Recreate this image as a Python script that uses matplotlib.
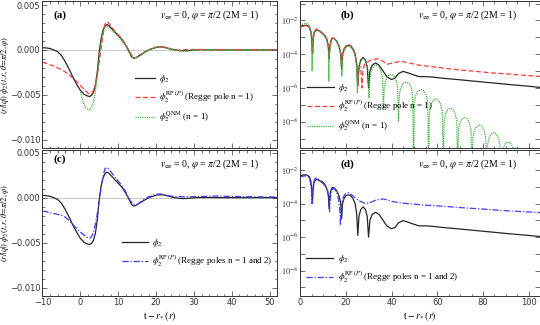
import matplotlib

matplotlib.use("Agg")
import matplotlib.pyplot as plt
import numpy as np
from matplotlib.ticker import MultipleLocator, FixedLocator, NullFormatter, FuncFormatter

plt.rcParams["font.family"] = ["DejaVu Sans"]
plt.rcParams["mathtext.fontset"] = "stix"

SERIF = ["Liberation Serif", "DejaVu Serif"]

# ---- linear panels (a), (c): values in units of 1e-3 ----
t_phi2 = [-10, -9, -8, -7, -6, -5, -4, -3, -2, -1, 0, 1, 2, 2.5, 3, 3.5, 4, 4.5, 5, 5.5,
          6, 6.5, 7, 7.5, 8, 9, 10, 11, 12, 13, 13.5, 14, 14.5, 15, 16, 17, 18, 19, 20, 21,
          22, 23, 24, 25, 26, 27, 28, 29, 30, 32, 35, 40, 45, 52]
phi2 = [0.25, 0.22, 0.15, 0.0, -0.2, -0.6, -1.3, -2.1, -3.0, -3.8, -4.5, -4.95, -5.15, -5.18,
        -5.05, -4.7, -3.9, -2.4, -0.2, 1.3, 2.2, 2.65, 2.83, 2.72, 2.5, 2.05, 1.6, 1.15, 0.5,
        -0.3, -0.75, -0.92, -0.88, -0.78, -0.5, -0.25, -0.02, 0.14, 0.27, 0.33, 0.3, 0.2, 0.08,
        -0.01, -0.07, -0.1, -0.09, -0.05, -0.01, 0.02, 0.01, 0.0, 0.0, 0.0]

t_rp1 = [-10, -9, -8, -7, -6, -5, -4, -3, -2, -1, 0, 1, 2, 2.7, 3.2, 4, 4.5, 5, 5.5, 6,
         6.5, 7, 7.5, 8, 9, 10, 11, 12, 13, 14, 15, 16, 17, 18, 19, 20, 21, 22, 23, 24,
         25, 26, 27, 28, 30, 35, 40, 52]
phi2_rp1 = [-1.35, -1.5, -1.65, -1.8, -2.0, -2.2, -2.45, -2.75, -3.1, -3.5, -3.95, -4.4,
            -4.8, -4.95, -4.8, -3.8, -2.8, -1.3, 0.2, 1.7, 2.9, 3.12, 3.0, 2.7, 2.15, 1.7,
            1.2, 0.6, -0.2, -0.9, -0.85, -0.55, -0.25, 0.0, 0.18, 0.32, 0.37, 0.33, 0.22,
            0.1, 0.01, -0.02, 0.0, 0.04, 0.05, 0.04, 0.03, 0.02]

t_qnm = [0.1, 0.5, 1, 1.5, 2, 2.5, 3, 3.5, 4, 4.5, 5, 5.5, 6, 6.5, 7, 7.5, 8, 9, 10, 11,
         12, 13, 14, 15, 16, 17, 18, 19, 20, 21, 22, 23, 24, 25, 26, 27, 28, 29, 30, 31,
         32, 33, 35, 37, 52]
phi2_qnm = [-4.7, -5.5, -6.1, -6.5, -6.65, -6.65, -6.4, -5.8, -4.6, -2.9, -0.9, 0.9, 2.0,
            2.5, 2.65, 2.6, 2.35, 1.95, 1.5, 1.0, 0.45, -0.3, -0.88, -0.85, -0.6, -0.3,
            -0.05, 0.15, 0.28, 0.32, 0.27, 0.17, 0.06, -0.03, -0.08, -0.11, -0.11, -0.09,
            -0.05, -0.01, 0.02, 0.03, 0.02, 0.0, 0.0]

t_rp12 = [-10, -9, -8, -7, -6, -5, -4, -3, -2, -1, 0, 1, 2, 2.5, 3, 3.5, 4, 4.5, 5, 5.5,
          6, 6.5, 7, 7.5, 8, 9, 10, 11, 12, 13, 14, 15, 16, 17, 18, 19, 20, 21, 22, 23,
          24, 25, 27, 29, 32, 36, 40, 45, 52]
phi2_rp12 = [-1.47, -1.55, -1.65, -1.75, -1.85, -1.95, -2.15, -2.5, -2.95, -3.4, -3.8,
             -4.15, -4.45, -4.5, -4.3, -3.8, -2.9, -1.7, -0.3, 1.1, 2.4, 3.2, 3.35, 3.2,
             2.9, 2.35, 1.85, 1.3, 0.65, -0.2, -0.8, -0.75, -0.45, -0.15, 0.08, 0.25, 0.38,
             0.42, 0.36, 0.25, 0.17, 0.12, 0.1, 0.1, 0.14, 0.18, 0.14, 0.1, 0.08]

# ---- log panels (b), (d): log10 |phi2| ----
t_log_phi2 = [0, 1, 2, 3, 4, 4.6, 5.0, 5.3, 5.6, 6, 7, 8, 9, 10, 11, 11.8, 12.3, 12.6, 12.9,
              13.4, 14, 15, 16, 17, 17.7, 18.1, 18.5, 19.2, 20, 21, 22, 23, 24, 24.7, 25.2,
              25.7, 26.5, 27.5, 28.5, 29.3, 29.9, 30.5, 31.5, 33, 34.5, 36, 38, 40, 41.5, 43,
              45, 47, 49, 52, 55, 58, 62, 70, 80, 90, 100, 105]
log_phi2 = [-2.35, -2.31, -2.29, -2.30, -2.42, -2.65, -3.1, -4.0, -3.15, -2.75, -2.55, -2.6,
            -2.69, -2.8, -2.94, -3.2, -3.55, -4.3, -3.6, -3.22, -3.04, -3.08, -3.25, -3.55,
            -3.95, -4.9, -4.0, -3.7, -3.53, -3.48, -3.52, -3.68, -4.0, -4.6, -5.9, -4.75,
            -4.35, -4.2, -4.35, -4.75, -6.0, -5.0, -4.65, -4.52, -4.65, -4.95, -5.35, -5.5,
            -5.42, -5.15, -5.02, -5.1, -5.2, -5.33, -5.33, -5.36, -5.42, -5.52, -5.65, -5.78,
            -5.9, -5.97]

t_log_rp1 = [0, 1, 2, 2.7, 3.5, 4, 4.6, 5.1, 5.45, 5.8, 6.3, 7, 8, 9, 10, 11, 11.9, 12.4,
             12.7, 13.0, 13.5, 14, 15, 16, 17, 17.6, 18.0, 18.4, 19.1, 20, 21, 22, 23, 24,
             24.7, 25.1, 25.6, 26.2, 26.6, 27.0, 27.5, 28.2, 29, 31, 34, 36.5, 38, 41, 44,
             47, 52, 58, 66, 75, 85, 95, 105]
log_rp1 = [-2.40, -2.36, -2.32, -2.30, -2.34, -2.42, -2.6, -2.95, -4.0, -3.0, -2.62, -2.5,
           -2.57, -2.66, -2.77, -2.92, -3.2, -3.55, -4.1, -3.6, -3.25, -3.05, -3.07, -3.25,
           -3.55, -3.95, -4.6, -4.0, -3.7, -3.5, -3.43, -3.48, -3.63, -3.95, -4.6, -5.9,
           -4.9, -4.75, -5.0, -6.0, -4.9, -4.6, -4.5, -4.35, -4.27, -4.45, -4.6, -4.5,
           -4.42, -4.5, -4.65, -4.75, -4.88, -5.0, -5.12, -5.22, -5.32]

t_log_qnm = [0, 1, 2, 3, 4, 4.6, 5.0, 5.15,
             5.5, 6, 7, 8, 9, 10, 11, 11.8, 12.3, 12.5,
             12.8, 13.3, 14, 15, 16, 17, 17.8, 18.2,
             18.6, 19.2, 20, 21, 22, 23, 24, 24.6, 25.0,
             25.4, 26, 27, 27.6, 28.5, 29.3, 29.8, 30.1,
             30.5, 31.1, 32.1, 33.2, 34.3, 35.4, 36.0, 36.4,
             36.8, 37.4, 38.4, 39.7, 41.0, 42.0, 42.6, 43.0,
             43.4, 44.0, 45.0, 46.3, 47.6, 48.6, 49.2, 49.6,
             50.0, 50.6, 51.6, 52.9, 54.2, 55.2, 55.8, 56.2,
             56.6, 57.2, 58.2, 59.4, 60.6, 61.6, 62.2, 62.6,
             63.0, 63.6, 64.6, 65.7, 66.8, 67.9, 68.5, 68.9,
             69.3, 69.9, 70.9, 72.0, 73.1, 74.2, 74.8, 75.2,
             75.6, 76.2, 77.2, 78.4, 79.6, 80.6, 81.2, 81.6,
             82.0, 82.6, 83.6, 84.7, 85.8, 86.9, 87.5, 87.9,
             88.3, 88.9, 89.9, 91.0, 92.1, 93.2, 93.8, 94.2]
log_qnm = [-2.33, -2.21, -2.18, -2.19, -2.34, -2.6, -3.2, -5.0,
           -3.05, -2.72, -2.58, -2.62, -2.71, -2.82, -3.0, -3.3, -3.8, -5.6,
           -3.8, -3.3, -3.07, -3.08, -3.22, -3.5, -4.0, -5.3,
           -4.2, -3.8, -3.6, -3.52, -3.57, -3.73, -4.05, -4.6, -6.3,
           -5.0, -4.55, -4.3, -4.27, -4.35, -4.7, -5.2, -6.6,
           -5.4, -5.0, -4.72, -4.65, -4.72, -5.0, -5.4, -7.2,
           -5.95, -5.55, -5.28, -5.2, -5.28, -5.55, -5.95, -8.0,
           -6.4, -6.0, -5.73, -5.65, -5.73, -6.0, -6.4, -10.5,
           -6.85, -6.45, -6.18, -6.1, -6.18, -6.45, -6.85, -10.5,
           -7.4, -7.0, -6.73, -6.65, -6.73, -7.0, -7.4, -10.5,
           -7.95, -7.55, -7.28, -7.2, -7.28, -7.55, -7.95, -10.5,
           -8.5, -8.1, -7.83, -7.75, -7.83, -8.1, -8.5, -10.5,
           -8.95, -8.55, -8.28, -8.2, -8.28, -8.55, -8.95, -10.5,
           -9.4, -9.0, -8.73, -8.65, -8.73, -9.0, -9.4, -10.5,
           -9.95, -9.55, -9.28, -9.2, -9.28, -9.55, -9.95, -10.5]

t_log_rp12 = [0, 1, 2, 2.5, 3, 3.5, 4, 4.5, 4.9, 5.15, 5.4, 5.8, 6.4, 7, 8, 9, 10, 11, 11.9,
              12.5, 12.8, 13.1, 13.6, 14.3, 15, 16, 16.8, 17.3, 17.6, 17.9, 18.5, 19.3, 20,
              21, 22, 24, 26, 28, 29.5, 31, 33, 35, 36.5, 38, 41, 45, 50, 55, 60, 70, 80, 90,
              100, 105]
log_rp12 = [-2.42, -2.38, -2.35, -2.35, -2.37, -2.42, -2.54, -2.77, -3.3, -4.0, -3.2, -2.75,
            -2.53, -2.47, -2.54, -2.63, -2.73, -2.89, -3.15, -3.6, -4.5, -3.7, -3.3, -3.1,
            -3.12, -3.35, -3.8, -4.4, -5.3, -4.4, -3.75, -3.5, -3.4, -3.35, -3.43, -3.65,
            -3.85, -3.97, -3.98, -3.92, -3.8, -3.74, -3.73, -3.78, -3.9, -3.98, -4.04, -4.1,
            -4.14, -4.24, -4.33, -4.43, -4.5, -4.54]

C_BLACK = "#262626"
C_RED = "#ff3b3b"
C_GREEN = "#3cb43c"
C_BLUE = "#3c3cff"
LS_RED = (0, (4, 2))
LS_GREEN = (0, (1, 0.8))
LS_BLUE = (0, (5, 1.5, 1, 1.5))
LW = 0.9

NOTE = r"$v_\infty$ = 0, $\varphi$ = $\pi$/2 (2M = 1)"
YLABEL = r"$(r/|q|)\ \phi_2(t,r,\theta\!=\!\pi/2,\varphi)$"
XLABEL = r"$\mathrm{t} - r_*(r)$"

W, H = 540, 325
fig = plt.figure(figsize=(W / 100, H / 100), dpi=100)


def box(x0, x1, y0, y1):
    return [x0 / W, 1 - y1 / H, (x1 - x0) / W, (y1 - y0) / H]


ax_a = fig.add_axes(box(42.4, 277.4, 0.7, 148.3))
ax_b = fig.add_axes(box(300.3, 540, 0.7, 148.3))
ax_c = fig.add_axes(box(42.4, 277.4, 150, 296))
ax_d = fig.add_axes(box(300.3, 540, 150, 296))


def frame(ax):
    for s in ax.spines.values():
        s.set_linewidth(0.7)
        s.set_color("#333333")
    ax.tick_params(which="both", direction="in", top=True, right=True, width=0.5,
                   colors="#333333", labelsize=6, pad=1.5)
    ax.tick_params(which="major", length=3.5)
    ax.tick_params(which="minor", length=1.8)


def lin_fmt(v, pos):
    s = f"{v:.3f}"
    if s == "-0.000":
        s = "0.000"
    return s.replace("-", "\u2212")


for ax in (ax_a, ax_c):
    frame(ax)
    ax.axhline(0, color="#c8c8c8", lw=0.7, zorder=0)
    ax.set_xlim(-10, 52)
    ax.xaxis.set_major_locator(MultipleLocator(10))
    ax.xaxis.set_minor_locator(MultipleLocator(2))
    ax.yaxis.set_major_locator(MultipleLocator(0.005))
    ax.yaxis.set_minor_locator(MultipleLocator(0.001))
    ax.yaxis.set_major_formatter(FuncFormatter(lin_fmt))
    ax.set_ylabel(YLABEL, fontsize=6)
    ax.yaxis.set_label_coords((11 - 42.4) / 235, 0.5)
    ax.text(0.71, 0.90, NOTE, transform=ax.transAxes, ha="center", va="center",
            fontsize=7, family=SERIF)

ax_a.set_ylim(-0.01096, 0.00548)
ax_c.set_ylim(-0.01089, 0.00528)
ax_a.tick_params(labelbottom=False)


def log_fmt(v, pos):
    e = int(round(np.log10(v)))
    return rf"$10^{{{e}}}$" if e % 2 == 0 else ""


for ax in (ax_b, ax_d):
    frame(ax)
    ax.set_yscale("log")
    ax.set_xlim(0, 105)
    ax.xaxis.set_major_locator(MultipleLocator(20))
    ax.xaxis.set_minor_locator(MultipleLocator(5))
    ax.yaxis.set_major_locator(FixedLocator([10.0 ** k for k in range(-9, 0)]))
    ax.yaxis.set_major_formatter(FuncFormatter(log_fmt))
    ax.yaxis.set_minor_locator(FixedLocator([]))
    ax.yaxis.set_minor_formatter(NullFormatter())
    ax.text(0.70, 0.90, NOTE, transform=ax.transAxes, ha="center", va="center",
            fontsize=7, family=SERIF)

ax_b.set_ylim(10 ** -9.58, 10 ** -0.83)
ax_d.set_ylim(10 ** -9.51, 10 ** -0.81)
ax_b.tick_params(labelbottom=False)

for ax in (ax_c, ax_d):
    ax.set_xlabel(XLABEL, fontsize=7)
    ax.xaxis.set_label_coords(0.5, -(309 - 296) / 146)

scale = 1e-3
# (a)
ax_a.plot(t_phi2, np.array(phi2) * scale, color=C_BLACK, lw=LW, label=r"$\phi_2$")
ax_a.plot(t_rp1, np.array(phi2_rp1) * scale, color=C_RED, lw=LW, ls=LS_RED,
          label=r"$\phi_2^{\mathrm{RP}\,(P)}$ (Regge pole n = 1)")
ax_a.plot(t_qnm, np.array(phi2_qnm) * scale, color=C_GREEN, lw=LW, ls=LS_GREEN,
          label=r"$\phi_2^{\mathrm{QNM}}$ (n = 1)")
# (c)
ax_c.plot(t_phi2, np.array(phi2) * scale, color=C_BLACK, lw=LW, label=r"$\phi_2$")
ax_c.plot(t_rp12, np.array(phi2_rp12) * scale, color=C_BLUE, lw=LW, ls=LS_BLUE,
          label=r"$\phi_2^{\mathrm{RP}\,(P)}$ (Regge poles n = 1 and 2)")
# (b)
ax_b.plot(t_log_phi2, 10.0 ** np.array(log_phi2), color=C_BLACK, lw=LW, label=r"$\phi_2$")
ax_b.plot(t_log_rp1, 10.0 ** np.array(log_rp1), color=C_RED, lw=LW, ls=LS_RED,
          label=r"$\phi_2^{\mathrm{RP}\,(P)}$ (Regge pole n = 1)")
ax_b.plot(t_log_qnm, 10.0 ** np.array(log_qnm), color=C_GREEN, lw=LW, ls=LS_GREEN,
          label=r"$\phi_2^{\mathrm{QNM}}$ (n = 1)")
# (d)
ax_d.plot(t_log_phi2, 10.0 ** np.array(log_phi2), color=C_BLACK, lw=LW, label=r"$\phi_2$")
ax_d.plot(t_log_rp12, 10.0 ** np.array(log_rp12), color=C_BLUE, lw=LW, ls=LS_BLUE,
          label=r"$\phi_2^{\mathrm{RP}\,(P)}$ (Regge poles n = 1 and 2)")

legend_spots = {ax_a: (0.394, 0.51, 2.2), ax_b: (0.027, 0.449, 3.0),
                ax_c: (0.337, 0.406, 2.9), ax_d: (0.024, 0.292, 3.0)}
for ax, (lx, ly, hl) in legend_spots.items():
    leg = ax.legend(loc="upper left", bbox_to_anchor=(lx, ly), frameon=False,
                    borderpad=0, borderaxespad=0, handlelength=hl, handletextpad=0.5,
                    labelspacing=0.5, prop={"family": SERIF, "size": 6.5})

for ax, lab, y in ((ax_a, "(a)", 0.905), (ax_b, "(b)", 0.905), (ax_c, "(c)", 0.94),
                   (ax_d, "(d)", 0.90)):
    x = (60 - 42.4) / 235 if ax in (ax_a, ax_c) else (347 - 300.3) / 239.7
    ax.text(x, y, lab, transform=ax.transAxes, ha="center", va="center", fontsize=8,
            fontweight="bold", family=SERIF)

fig.savefig("out.png", dpi=100)
